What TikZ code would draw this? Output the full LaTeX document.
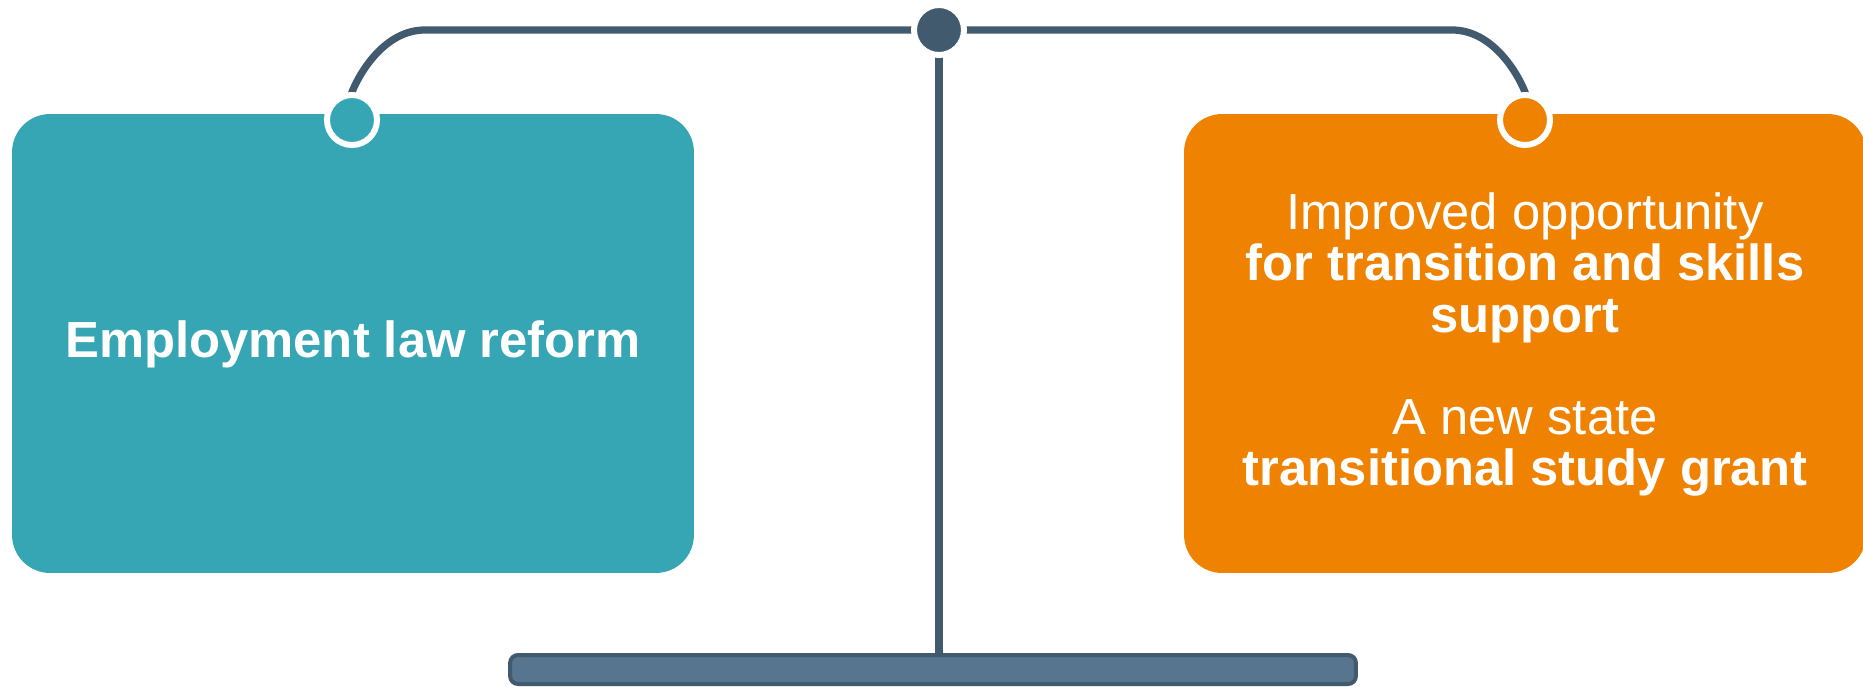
\documentclass[tikz,border=0pt]{standalone}
\usepackage{fontspec}
\setmainfont{Liberation Sans}
\usetikzlibrary{backgrounds}
\definecolor{scaleteal}{HTML}{36A6B4}
\definecolor{scaleorange}{HTML}{EF8200}
\definecolor{scaleslate}{HTML}{415A6E}
\definecolor{scalebase}{HTML}{587590}
\begin{document}
\begin{tikzpicture}[x=0.02cm,y=-0.02cm,
  panel/.style={rectangle, rounded corners=0.76cm, minimum width=13.64cm,
    minimum height=9.18cm, inner sep=0pt, draw=none},
  joint/.style={circle, draw=white, line width=0.12cm, minimum size=1cm, inner sep=0pt},
  beam/.style={draw=scaleslate, line width=0.145cm},
  paneltext/.style={text=white, font=\fontsize{28.9}{29.2}\selectfont,
    anchor=base, inner sep=0pt},
]
\useasboundingbox (0,0) rectangle (1863,687);

% the two pans
\node[panel, fill=scaleteal]   (leftpan)  at (353,343.5)  {};
\node[panel, fill=scaleorange] (rightpan) at (1525,343.5) {};

% hooks and pivot
\node[joint, fill=scaleteal]   (lhook) at (352,120)  {};
\node[joint, fill=scaleorange] (rhook) at (1525,120) {};
\node[joint, fill=scaleslate]  (pivot) at (939,30)   {};

% foot of the scale
\node[rectangle, rounded corners=0.16cm, fill=scalebase, draw=scaleslate,
  line width=0.08cm, minimum width=16.92cm, minimum height=0.58cm, inner sep=0pt]
  (base) at (933,669.5) {};

% beam, arms and post
\begin{scope}[on background layer]
  \draw[beam] (lhook.center) -- (352,92) .. controls (360,72) and (385,30) .. (425,30)
    -- (pivot.center) -- (1452,30) .. controls (1492,30) and (1517,72) .. (1525,92)
    -- (rhook.center);
  \draw[beam, line width=0.16cm] (pivot.center) -- (pivot.center |- base.north);
\end{scope}

% texts
\node[paneltext] (ltext) at (353,357) {\bfseries Employment law reform};
\node[paneltext] (r1) at (1525,229)   {Improved opportunity};
\node[paneltext] (r2) at (1525,280.5) {\bfseries for transition and skills};
\node[paneltext] (r3) at (1525,332)   {\bfseries support};
\node[paneltext] (r4) at (1525,434)   {A new state};
\node[paneltext] (r5) at (1525,485.5) {\bfseries transitional study grant};
\end{tikzpicture}
\end{document}
